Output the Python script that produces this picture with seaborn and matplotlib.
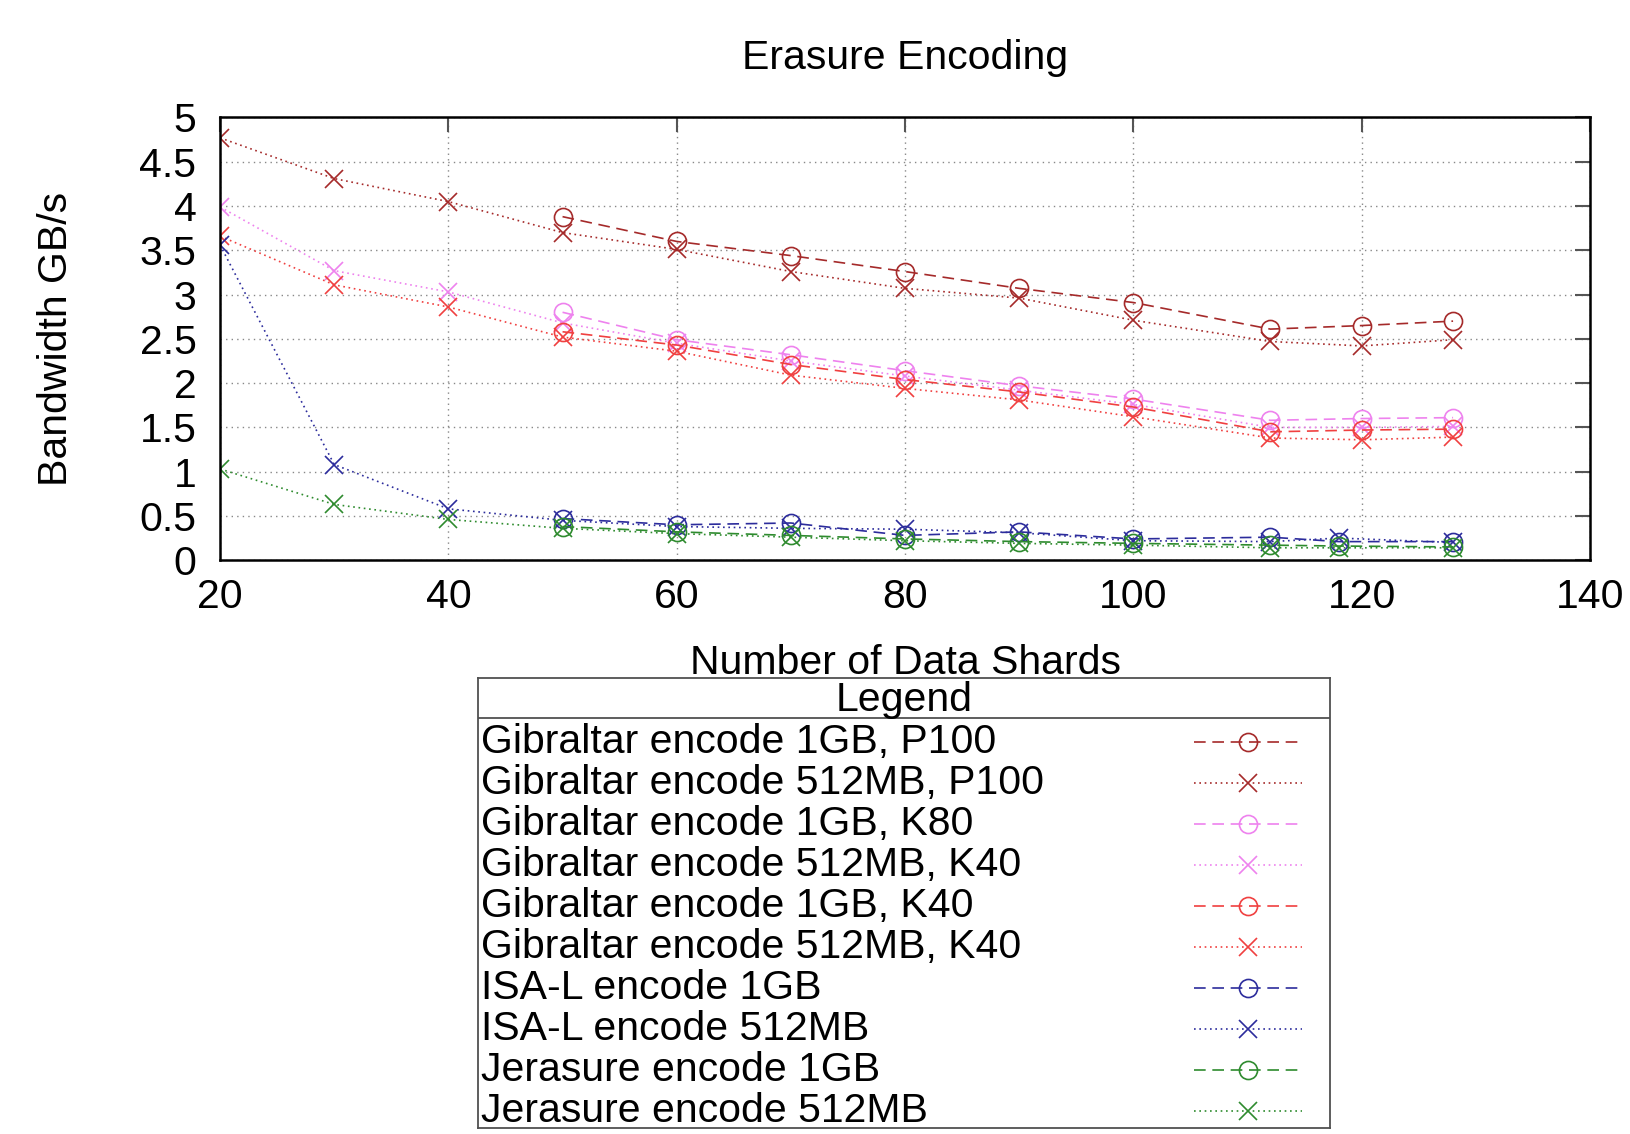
import pandas as pd
import matplotlib
matplotlib.use("Agg")
import matplotlib.pyplot as plt
import seaborn as sns

# shard counts
shards_gib = [20, 30, 40, 50, 60, 70, 80, 90, 100, 112, 120, 128]
shards_gib_1gb = [50, 60, 70, 80, 90, 100, 112, 120, 128]
shards_cpu = [20, 30, 40, 50, 60, 70, 80, 90, 100, 112, 118, 128]
shards_cpu_1gb = [50, 60, 70, 80, 90, 100, 112, 118, 128]

# bandwidth GB/s
p100_1gb = [3.88, 3.60, 3.44, 3.26, 3.07, 2.91, 2.61, 2.65, 2.70]
p100_512 = [4.77, 4.31, 4.05, 3.70, 3.51, 3.26, 3.07, 2.96, 2.71, 2.47, 2.42, 2.49]
k80_1gb = [2.80, 2.49, 2.32, 2.14, 1.97, 1.82, 1.58, 1.60, 1.61]
k40_512_v = [3.99, 3.27, 3.03, 2.68, 2.45, 2.25, 2.08, 1.92, 1.76, 1.50, 1.50, 1.51]
k40_1gb = [2.58, 2.43, 2.21, 2.04, 1.90, 1.73, 1.45, 1.47, 1.48]
k40_512 = [3.66, 3.11, 2.86, 2.52, 2.36, 2.09, 1.94, 1.81, 1.62, 1.38, 1.36, 1.39]
isal_1gb = [0.47, 0.40, 0.42, 0.28, 0.32, 0.24, 0.26, 0.21, 0.21]
isal_512 = [3.56, 1.08, 0.58, 0.45, 0.38, 0.36, 0.35, 0.31, 0.22, 0.21, 0.25, 0.20]
jer_1gb = [0.38, 0.32, 0.28, 0.24, 0.21, 0.19, 0.17, 0.16, 0.15]
jer_512 = [1.03, 0.63, 0.46, 0.36, 0.30, 0.26, 0.22, 0.19, 0.17, 0.14, 0.14, 0.14]

labels = ["Gibraltar encode 1GB, P100", "Gibraltar encode 512MB, P100",
          "Gibraltar encode 1GB, K80", "Gibraltar encode 512MB, K40",
          "Gibraltar encode 1GB, K40", "Gibraltar encode 512MB, K40",
          "ISA-L encode 1GB", "ISA-L encode 512MB",
          "Jerasure encode 1GB", "Jerasure encode 512MB"]

brown, violet, red, blue, green = "#a52a2a", "#ee82ee", "#f04040", "#2c2c9c", "#2e8b2e"
dashed = (0, (7, 4))
dotted = (0, (1, 2.2))

series = [
    (shards_gib_1gb, p100_1gb, brown, dashed, "o"),
    (shards_gib, p100_512, brown, dotted, "x"),
    (shards_gib_1gb, k80_1gb, violet, dashed, "o"),
    (shards_gib, k40_512_v, violet, dotted, "x"),
    (shards_gib_1gb, k40_1gb, red, dashed, "o"),
    (shards_gib, k40_512, red, dotted, "x"),
    (shards_cpu_1gb, isal_1gb, blue, dashed, "o"),
    (shards_cpu, isal_512, blue, dotted, "x"),
    (shards_cpu_1gb, jer_1gb, green, dashed, "o"),
    (shards_cpu, jer_512, green, dotted, "x"),
]

sns.set_theme(style="white")
plt.rcParams["font.family"] = ["Liberation Sans", "DejaVu Sans"]
plt.rcParams["text.color"] = "black"
plt.rcParams["axes.labelcolor"] = "black"
fs = 29.5

fig = plt.figure(figsize=(16.3, 11.34), dpi=100)
ax = fig.add_axes([0.135, 0.506, 0.8405, 0.3904])

mk = dict(lw=1.2, markersize=13, mew=1.2, mfc="none")
for (xs, ys, col, ls, m), lab in zip(series, labels):
    df = pd.DataFrame({"shards": xs, "bw": ys})
    sns.lineplot(data=df, x="shards", y="bw", ax=ax, color=col, linestyle=ls,
                 marker=m, mec=col, legend=False, **mk)

ax.set_xlim(20, 140)
ax.set_ylim(0, 5)
ax.set_xticks(range(20, 141, 20))
ax.set_yticks([i * 0.5 for i in range(11)])
ax.yaxis.set_major_formatter(matplotlib.ticker.FormatStrFormatter("%g"))
ax.tick_params(direction="in", length=11, width=1.5, color="#555555",
               top=True, right=True, labelsize=fs, labelcolor="black")
ax.tick_params(axis="x", pad=13)
ax.tick_params(axis="y", pad=17)
ax.grid(True, color="#888888", lw=1.0, linestyle=(0, (1, 3)))
for s in ax.spines.values():
    s.set_color("black")
    s.set_linewidth(1.8)

ax.set_title("Erasure Encoding", fontsize=fs, pad=35, color="black")
ax.set_xlabel("Number of Data Shards", fontsize=fs)
ax.set_ylabel("Bandwidth GB/s", fontsize=fs)
ax.xaxis.set_label_coords(0.5, -0.19)
ax.yaxis.set_label_coords(-0.106, 0.5)

# legend box drawn like gnuplot's: text on the left, samples on the right
lax = fig.add_axes([0.2933, 0.0055, 0.5227, 0.397])
lax.set_xlim(0, 1)
lax.set_ylim(0, 1)
lax.set_xticks([])
lax.set_yticks([])
for s in lax.spines.values():
    s.set_color("#505050")
    s.set_linewidth(1.3)
lax.text(0.5, 0.950, "Legend", ha="center", va="center", fontsize=fs)
lax.axhline(0.910, color="#505050", lw=1.3)
for i, ((xs, ys, col, ls, m), lab) in enumerate(zip(series, labels)):
    yy = 0.857 - i * 0.0911
    lax.text(0.003, yy, lab, ha="left", va="center", fontsize=fs)
    lax.plot([0.840, 0.967], [yy, yy], color=col, linestyle=ls, lw=1.2)
    lax.plot([0.904], [yy], color=col, marker=m, markersize=13, mew=1.2,
             mfc="none", mec=col, linestyle="none")

fig.savefig("out.png", dpi=100)
